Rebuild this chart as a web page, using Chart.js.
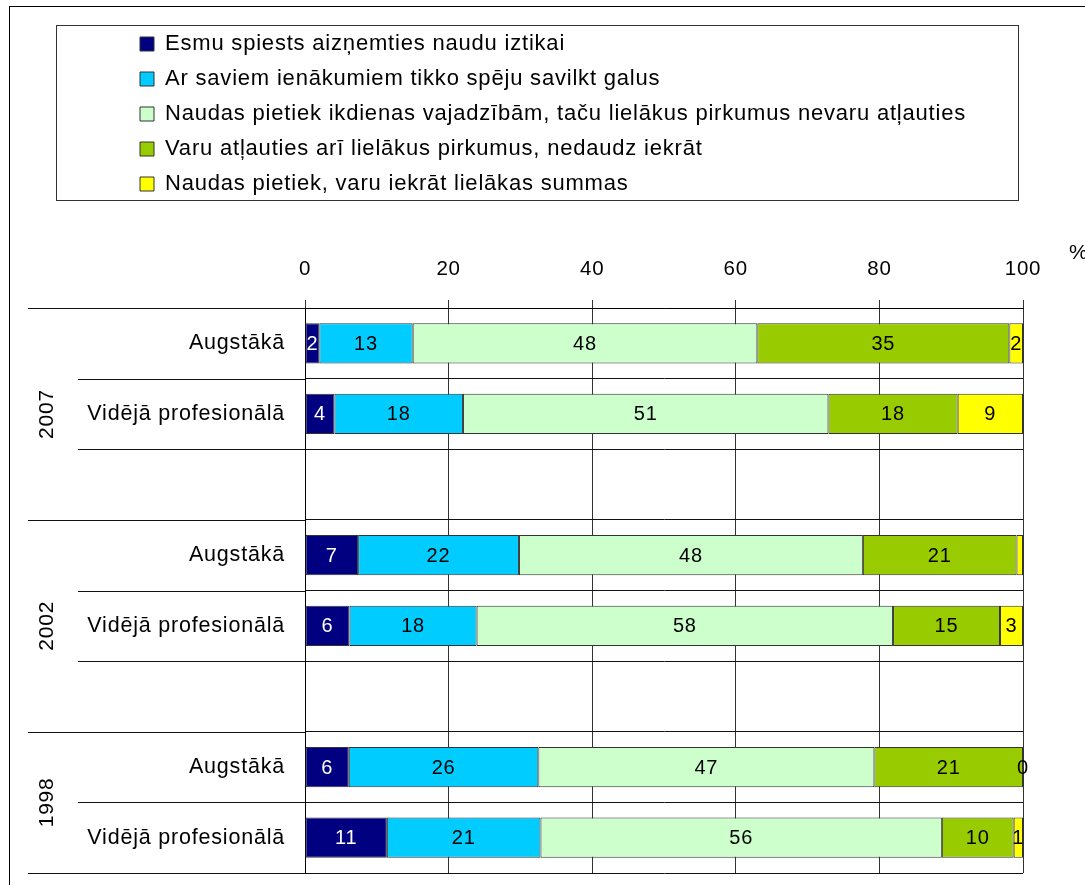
<!DOCTYPE html>
<html>
<head>
<meta charset="utf-8">
<script src="https://cdn.jsdelivr.net/npm/chart.js@4/dist/chart.umd.min.js"></script>
<style>
  body { margin: 0; background: #fff; }
</style>
</head>
<body>
<canvas id="myChart" width="1085" height="885"></canvas>
<script>
// rows of the chart (blank rows separate the years)
var categories = ['Augstākā', 'Vidējā profesionālā', '', 'Augstākā', 'Vidējā profesionālā', '', 'Augstākā', 'Vidējā profesionālā'];
var years = ['2007', '2002', '1998'];
var yearRows = [3, 3, 2];
var xTicks = [0, 20, 40, 60, 80, 100];

var seriesNames = [
    'Esmu spiests aizņemties naudu iztikai',
    'Ar saviem ienākumiem tikko spēju savilkt galus',
    'Naudas pietiek ikdienas vajadzībām, taču lielākus pirkumus nevaru atļauties',
    'Varu atļauties arī lielākus pirkumus, nedaudz iekrāt',
    'Naudas pietiek, varu iekrāt lielākas summas'
];
var seriesColors = ['#000080', '#00CCFF', '#CCFFCC', '#99CC00', '#FFFF00'];

var borrow   = [2,    4.1,  null, 7.4,  6.2,  null, 6.1,  11.4];
var barely   = [13,   17.9, null, 22.4, 17.7, null, 26.4, 21.4];
var everyday = [48,   50.9, null, 47.9, 58.0, null, 46.8, 55.9];
var bigger   = [35.1, 18,   null, 21.4, 14.9, null, 20.7, 10.0];
var saving   = [1.9,  9.1,  null, 0.9,  3.2,  null, 0,    1.3];

var seriesValues = [borrow, barely, everyday, bigger, saving];

var FONT = '"Liberation Sans", Arial, sans-serif';
Chart.defaults.font.family = FONT;
Chart.defaults.color = '#000';

var decorations = {
    id: 'decorations',
    beforeUpdate: function (chart) { chart.ctx.letterSpacing = '0.8px'; },
    beforeDraw: function (chart) { chart.ctx.letterSpacing = '0.8px'; },
    afterDatasetsDraw: function (chart) {
        var ctx = chart.ctx;
        ctx.save();
        ctx.font = '20px ' + FONT;
        ctx.textAlign = 'center';
        ctx.textBaseline = 'middle';
        chart.data.datasets.forEach(function (ds, i) {
            var meta = chart.getDatasetMeta(i);
            meta.data.forEach(function (bar, j) {
                var v = ds.data[j];
                if (v === null || (v > 0 && v < 1)) return;
                ctx.fillStyle = i === 0 ? '#fff' : '#000';
                ctx.fillText(Math.round(v), (bar.x + bar.base) / 2, bar.y + 1);
            });
        });
        ctx.restore();
    },
    afterDraw: function (chart) {
        var ctx = chart.ctx;
        var area = chart.chartArea;
        var y = chart.scales.y;
        ctx.save();
        ctx.lineWidth = 1;
        ctx.strokeStyle = '#000';
        // outer frame
        ctx.strokeRect(9.5, 6.5, chart.width + 20, chart.height + 20);
        // legend frame
        ctx.strokeStyle = '#333';
        ctx.strokeRect(56.5, 25.5, 962, 175);

        // category separators on the left side
        var bounds = [0], s = 0;
        yearRows.forEach(function (n) { s += n; bounds.push(s); });
        ctx.strokeStyle = '#111';
        for (var k = 0; k <= categories.length; k++) {
            var py = Math.round(y.getPixelForValue(k - 0.5)) + 0.5;
            var x0 = bounds.indexOf(k) >= 0 ? 28 : 78;
            ctx.beginPath();
            ctx.moveTo(x0, py);
            ctx.lineTo(area.left, py);
            ctx.stroke();
        }

        ctx.fillStyle = '#000';
        ctx.textBaseline = 'middle';

        // category labels
        ctx.font = '21.5px ' + FONT;
        ctx.textAlign = 'right';
        categories.forEach(function (c, i) {
            ctx.fillText(c, area.left - 20, y.getPixelForValue(i));
        });

        // year labels
        ctx.font = '21px ' + FONT;
        ctx.textAlign = 'center';
        s = 0;
        years.forEach(function (yr, i) {
            var a = y.getPixelForValue(s - 0.5);
            var b = y.getPixelForValue(s + yearRows[i] - 0.5);
            ctx.save();
            ctx.translate(47, (a + b) / 2);
            ctx.rotate(-Math.PI / 2);
            ctx.fillText(yr, 0, 0);
            ctx.restore();
            s += yearRows[i];
        });

        // unit
        ctx.textAlign = 'left';
        ctx.fillText('%', 1069, 253);
        ctx.restore();
    }
};

var ctx = document.getElementById('myChart').getContext('2d');

var myChart = new Chart(ctx, {
    type: 'bar',
    data: {
        labels: categories,
        datasets: seriesNames.map(function (name, i) {
            return {
                label: name,
                data: seriesValues[i],
                backgroundColor: seriesColors[i],
                borderColor: '#333',
                borderWidth: 1,
                borderSkipped: false,
                barPercentage: 0.57,
                categoryPercentage: 1
            };
        })
    },
    options: {
        indexAxis: 'y',
        responsive: false,
        animation: false,
        layout: {
            padding: { top: 20, left: 127, right: 62, bottom: 12 }
        },
        scales: {
            x: {
                type: 'linear',
                position: 'top',
                stacked: true,
                min: 0,
                max: 100,
                afterBuildTicks: function (scale) {
                    scale.ticks = xTicks.map(function (v) { return { value: v }; });
                },
                afterFit: function (scale) { scale.height = 103; },
                ticks: {
                    font: { size: 20.5 },
                    padding: 18
                },
                grid: {
                    color: '#333',
                    tickLength: 8
                },
                border: { color: '#000' }
            },
            y: {
                stacked: true,
                afterFit: function (scale) { scale.width = 178; },
                ticks: { display: false },
                grid: {
                    color: '#111',
                    drawTicks: false,
                    offset: true
                },
                border: { color: '#000' }
            }
        },
        plugins: {
            legend: {
                position: 'top',
                align: 'start',
                labels: {
                    boxWidth: 14,
                    boxHeight: 14,
                    padding: 13,
                    font: { size: 22 },
                    generateLabels: function (chart) {
                        var items = Chart.defaults.plugins.legend.labels.generateLabels(chart);
                        // keep one entry per row
                        items.forEach(function (it) { it.text = it.text.padEnd(60, ' '); });
                        return items;
                    }
                }
            },
            tooltip: { enabled: false }
        }
    },
    plugins: [decorations]
});
</script>
</body>
</html>
